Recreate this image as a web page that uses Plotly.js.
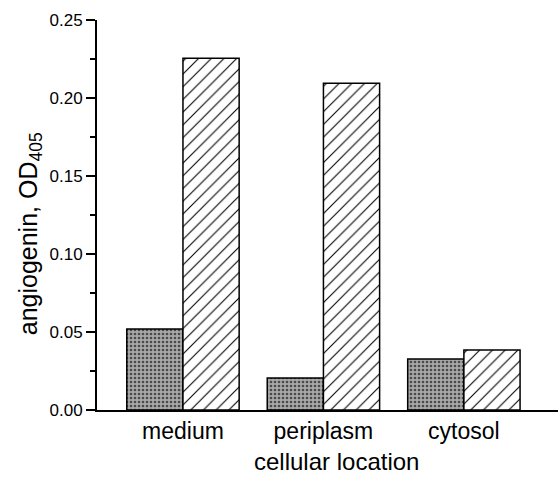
<!DOCTYPE html>
<html>
<head>
<meta charset="utf-8">
<script src="https://cdn.plot.ly/plotly-3.0.1.min.js"></script>
<style>html,body{margin:0;padding:0;background:#fff;}#chart{width:559px;height:477px;}</style>
</head>
<body>
<div id="chart"></div>
<script>
var categories = ["medium", "periplasm", "cytosol"];
var grayValues = [0.052, 0.0205, 0.0327];
var hatchValues = [0.2255, 0.2095, 0.0385];
var yTickVals = [0, 0.05, 0.10, 0.15, 0.20, 0.25];
var xTitle = "cellular location";
var yTitle = "angiogenin, OD<sub>405</sub>";

var FONT = "Liberation Sans, Arial, Helvetica, sans-serif";

var traces = [
  {
    type: "bar", x: categories, y: grayValues, name: "gray",
    marker: {
      color: "#a0a0a0",
      line: {color: "#000", width: 1.5},
      pattern: {shape: ".", fgcolor: "#4a4a4a", bgcolor: "#a8a8a8", size: 4, solidity: 0.35}
    }
  },
  {
    type: "bar", x: categories, y: hatchValues, name: "hatched",
    marker: {
      color: "#fff",
      line: {color: "#000", width: 1.5},
      pattern: {shape: "/", fgcolor: "#000", bgcolor: "#fff", size: 9, solidity: 0.12}
    }
  }
];

var layout = {
  width: 559, height: 477,
  margin: {l: 97, r: 1, t: 20, b: 67, pad: 0},
  paper_bgcolor: "#fff", plot_bgcolor: "#fff",
  showlegend: false,
  barmode: "group", bargap: 0.2, bargroupgap: 0,
  font: {family: FONT, color: "#000"},
  xaxis: {
    range: [-0.612, 2.67],
    showline: true, linecolor: "#000", linewidth: 1.5,
    ticks: "", showgrid: false, zeroline: false,
    tickfont: {size: 23, family: FONT, color: "#000"},
    ticklabelstandoff: 0
  },
  yaxis: {
    range: [0, 0.25],
    showline: true, linecolor: "#000", linewidth: 2,
    ticks: "outside", ticklen: 9, tickwidth: 1.5, tickcolor: "#000",
    tickvals: yTickVals, tickformat: ".2f",
    minor: {ticks: "outside", ticklen: 5, tickwidth: 1.5, tickcolor: "#000", dtick: 0.025, showgrid: false},
    showgrid: false, zeroline: false,
    tickfont: {size: 17, family: FONT, color: "#000"}
  },
  annotations: [
    {
      text: yTitle, textangle: -90, showarrow: false,
      xref: "paper", yref: "paper", x: -0.145, y: 0.451,
      xanchor: "center", yanchor: "middle",
      font: {size: 25, family: FONT, color: "#000"}
    },
    {
      text: xTitle, showarrow: false,
      xref: "paper", yref: "paper", x: 0.52, y: -0.133,
      xanchor: "center", yanchor: "middle",
      font: {size: 24, family: FONT, color: "#000"}
    }
  ]
};

Plotly.newPlot("chart", traces, layout, {displayModeBar: false, staticPlot: true});
</script>
</body>
</html>
